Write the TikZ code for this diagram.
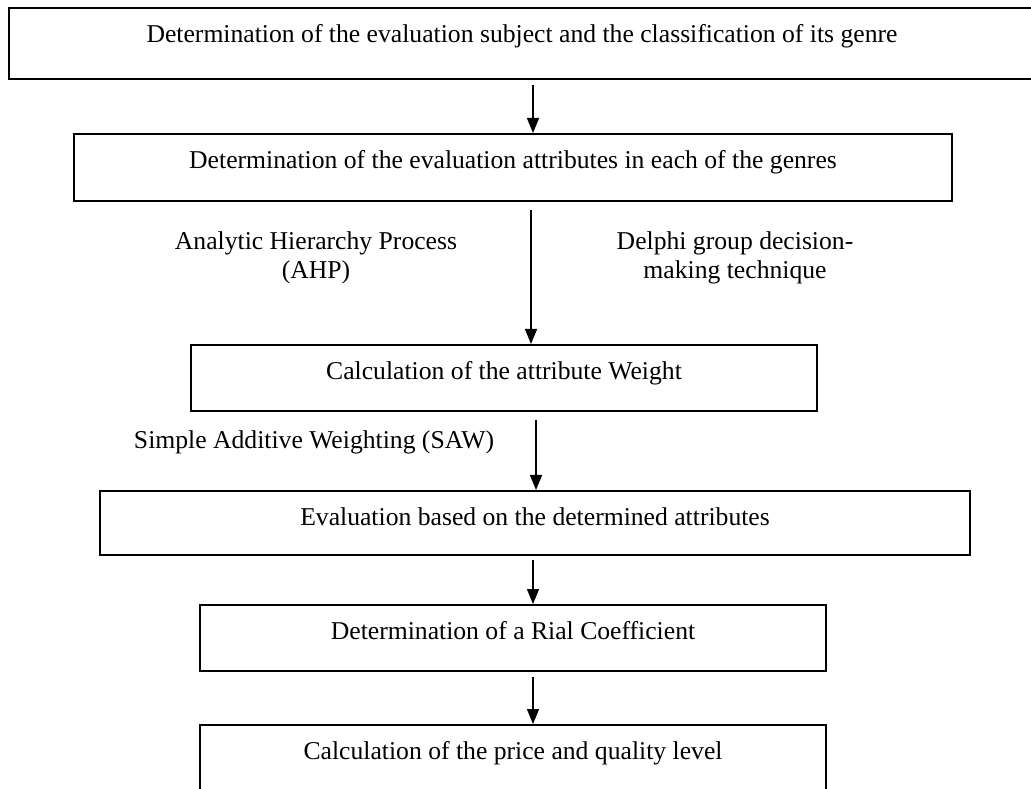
\documentclass[tikz,border=0pt]{standalone}
\usepackage{fontspec}
\setmainfont{Liberation Serif}
\usetikzlibrary{arrows.meta}

\begin{document}
\begin{tikzpicture}[font=\fontsize{7.3pt}{8.4pt}\selectfont,
  stage/.style={draw, line width=0.55pt, anchor=north, inner xsep=0pt, inner ysep=0pt, text height=0.35cm, text depth=0.31cm},
  flow/.style={-{Triangle[length=1.5mm, width=1.2mm]}, line width=0.4pt},
  method/.style={align=center}]
  \useasboundingbox (0,0) rectangle (10.31,-7.89);
  % Stages
  \node[stage, minimum width=10.26cm, text depth=0.36cm] (subject) at (5.22,-0.07) {Determination of the evaluation subject and the classification of its genre};
  \node[stage, minimum width=8.78cm, text depth=0.32cm] (attributes) at (5.13,-1.33) {Determination of the evaluation attributes in each of the genres};
  \node[stage, minimum width=6.26cm] (weight) at (5.04,-3.44) {Calculation of the attribute Weight};
  \node[stage, minimum width=8.70cm, text depth=0.29cm] (evaluation) at (5.35,-4.90) {Evaluation based on the determined attributes};
  \node[stage, minimum width=6.26cm] (rial) at (5.13,-6.04) {Determination of a Rial Coefficient};
  \node[stage, minimum width=6.26cm, text depth=0.5cm] (price) at (5.13,-7.24) {Calculation of the price and quality level};
  % Methods
  \node[method] (ahp) at (3.16,-2.58) {Analytic Hierarchy Process\\(AHP)};
  \node[method] (delphi) at (7.35,-2.58) {Delphi group decision-\\making technique};
  \node (saw) at (3.14,-4.42) {Simple Additive Weighting (SAW)};
  % Flow
  \coordinate (spine) at (5.33,0);
  \draw[flow, shorten <=0.05cm] (subject.south -| spine) -- (attributes.north -| spine);
  \draw[flow, shorten <=0.08cm] ([xshift=-0.02cm]attributes.south -| spine) -- ([xshift=-0.02cm]weight.north -| spine);
  \draw[flow, shorten <=0.08cm] ([xshift=0.03cm]weight.south -| spine) -- ([xshift=0.03cm]evaluation.north -| spine);
  \draw[flow, shorten <=0.04cm] (evaluation.south -| spine) -- (rial.north -| spine);
  \draw[flow, shorten <=0.05cm] (rial.south -| spine) -- (price.north -| spine);
\end{tikzpicture}
\end{document}
